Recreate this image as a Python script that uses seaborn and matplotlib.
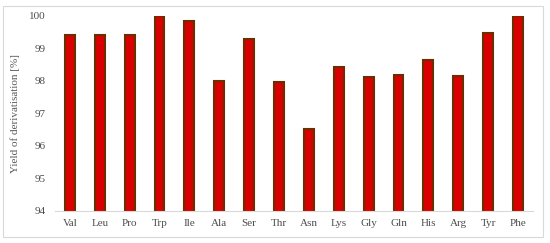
import matplotlib
matplotlib.use("Agg")
import matplotlib.pyplot as plt
import seaborn as sns
import pandas as pd
from matplotlib.patches import Rectangle

amino_acids = ["Val", "Leu", "Pro", "Trp", "Ile", "Ala", "Ser", "Thr", "Asn",
               "Lys", "Gly", "Gln", "His", "Arg", "Tyr", "Phe"]
yield_pct = [99.40, 99.40, 99.42, 100.0, 99.83, 97.99, 99.27, 97.96, 96.53,
             98.43, 98.12, 98.17, 98.63, 98.14, 99.48, 100.0]
y_ticks = [94, 95, 96, 97, 98, 99, 100]

df = pd.DataFrame({"aa": amino_acids, "y": yield_pct})

sns.set_theme(style="white")
plt.rcParams["font.family"] = ["Liberation Serif", "DejaVu Serif"]

fig = plt.figure(figsize=(5.5, 2.43), dpi=100)
ax = fig.add_axes([0.1, 0.1317, 0.869, 0.804])

sns.barplot(data=df, x="aa", y="y", color="#D80000", saturation=1,
            width=0.33, edgecolor="#6B2E00", linewidth=1.5, ax=ax)

ax.set_ylim(94, 100)
ax.set_yticks(y_ticks)
ax.set_yticklabels([str(t) for t in y_ticks])
ax.set_xlabel("")
ax.set_ylabel("Yield of derivatisation [%]", fontsize=8, color="#595959", labelpad=6)
ax.tick_params(axis="both", length=0, labelsize=8, labelcolor="#4D4D4D")
ax.tick_params(axis="y", pad=7)
ax.tick_params(axis="x", pad=6)
for s in ["top", "right", "left"]:
    ax.spines[s].set_visible(False)
ax.spines["bottom"].set_color("#D9D9D9")
ax.spines["bottom"].set_linewidth(0.8)

fig.patches.append(Rectangle((0.006, 0.025), 0.982, 0.952, transform=fig.transFigure,
                             fill=False, edgecolor="#D9D9D9", linewidth=0.8))

fig.savefig("out.png", dpi=100)
